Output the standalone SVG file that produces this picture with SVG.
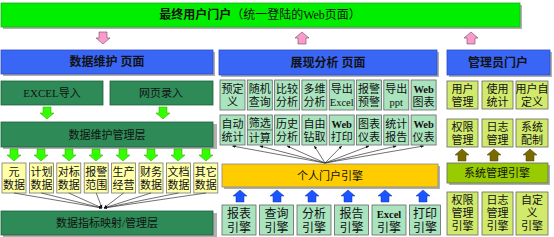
<svg xmlns="http://www.w3.org/2000/svg" width="554" height="237" viewBox="0 0 554 237">
<defs>
<style>
text{font-family:"Liberation Serif","Noto Sans CJK SC",serif;fill:#111;text-anchor:middle}
.t11{font-size:11px}
.t10{font-size:10.5px}
.t12{font-size:12px}
.b{font-weight:bold}
.shadow{fill:#b0b0b0}
.hdr{fill:#3a66f6;stroke:#2a4cc0;stroke-width:0.8}
.dg{fill:#2e8b57;stroke:#1f5f3b;stroke-width:0.8}
.yl{fill:#ffffa6;stroke:#777;stroke-width:0.8}
.mt{fill:#a9e4bf;stroke:#666;stroke-width:0.8}
.yg{fill:#d2ea6c;stroke:#666;stroke-width:0.8}
.ln{stroke:#333;stroke-width:0.7;fill:none}
</style>
<path id="adown" d="M-4,0 H4 V6 H7 L0,12 L-7,6 H-4 Z"/>
<path id="aup" d="M-4,12 H4 V6 H7 L0,0 L-7,6 H-4 Z"/>
<marker id="mk" viewBox="0 0 10 10" refX="9" refY="5" markerWidth="5" markerHeight="5" orient="auto">
<path d="M0,1 L10,5 L0,9 Z" fill="#111"/>
</marker>
</defs>
<rect width="554" height="237" fill="#fff"/>

<g id="top">
<rect x="3" y="5" width="519" height="24" class="shadow"/>
<rect x="1" y="3" width="519" height="24" fill="#00ee00" stroke="#22aa22" stroke-width="0.8"/>
<text x="260" y="19" class="t12"><tspan class="b">最终用户门户</tspan><tspan>（统一登陆的Web页面）</tspan></text>
</g>

<g id="big-arrows">
<use href="#adown" x="103" y="32" fill="#ff99cc" stroke="#555" stroke-width="0.6"/>
<use href="#aup" x="302" y="32" fill="#ff99cc" stroke="#555" stroke-width="0.6"/>
<use href="#aup" x="471" y="32" fill="#ff99cc" stroke="#555" stroke-width="0.6"/>
</g>

<!-- Left column -->
<g id="hdr-left">
<rect x="3" y="52" width="212" height="24" class="shadow"/>
<rect x="1" y="50" width="212" height="24" class="hdr"/>
<text x="107" y="66" class="t12 b">数据维护  页面</text>
</g>
<g id="excel-import">
<rect x="1" y="81" width="102" height="24" class="dg"/>
<text x="52" y="97" class="t11">EXCEL导入</text>
</g>
<g id="web-input">
<rect x="110" y="81" width="103" height="24" class="dg"/>
<text x="161" y="97" class="t11">网页录入</text>
</g>
<g id="lime-arrows-1" fill="#33ff00" stroke="#339900" stroke-width="0.5">
<use href="#adown" x="47" y="107"/>
<use href="#adown" x="163" y="107"/>
</g>
<g id="dm-layer">
<rect x="3" y="124" width="214" height="25" class="shadow"/>
<rect x="1" y="122" width="212" height="25" class="dg"/>
<text x="107" y="139" class="t11">数据维护管理层</text>
</g>
<g id="lime-arrows-2" fill="#33ff00" stroke="#339900" stroke-width="0.5">
<use href="#adown" x="14" y="149"/>
<use href="#adown" x="41" y="149"/>
<use href="#adown" x="69" y="149"/>
<use href="#adown" x="96" y="149"/>
<use href="#adown" x="123" y="149"/>
<use href="#adown" x="151" y="149"/>
<use href="#adown" x="178" y="149"/>
<use href="#adown" x="206" y="149"/>
</g>
<g id="data-boxes">
<g id="d1"><rect x="2" y="163" width="24" height="30" class="yl"/><text x="14" y="176" class="t11">元</text><text x="14" y="189" class="t11">数据</text></g>
<g id="d2"><rect x="29.4" y="163" width="24" height="30" class="yl"/><text x="41.4" y="176" class="t11">计划</text><text x="41.4" y="189" class="t11">数据</text></g>
<g id="d3"><rect x="56.8" y="163" width="24" height="30" class="yl"/><text x="68.8" y="176" class="t11">对标</text><text x="68.8" y="189" class="t11">数据</text></g>
<g id="d4"><rect x="84.2" y="163" width="24" height="30" class="yl"/><text x="96.2" y="176" class="t11">报警</text><text x="96.2" y="189" class="t11">范围</text></g>
<g id="d5"><rect x="111.6" y="163" width="24" height="30" class="yl"/><text x="123.6" y="176" class="t11">生产</text><text x="123.6" y="189" class="t11">经营</text></g>
<g id="d6"><rect x="139" y="163" width="24" height="30" class="yl"/><text x="151" y="176" class="t11">财务</text><text x="151" y="189" class="t11">数据</text></g>
<g id="d7"><rect x="166.4" y="163" width="24" height="30" class="yl"/><text x="178.4" y="176" class="t11">文档</text><text x="178.4" y="189" class="t11">数据</text></g>
<g id="d8"><rect x="193.8" y="163" width="24" height="30" class="yl"/><text x="205.8" y="176" class="t11">其它</text><text x="205.8" y="189" class="t11">数据</text></g>
</g>
<g id="map-layer">
<rect x="3" y="213" width="214" height="24" class="shadow"/>
<rect x="1" y="211" width="212" height="24" class="dg"/>
<text x="107" y="227" class="t11">数据指标映射/管理层</text>
</g>

<!-- Middle column -->
<g id="hdr-mid">
<rect x="221" y="52" width="218" height="25" class="shadow"/>
<rect x="219" y="50" width="218" height="25" class="hdr"/>
<text x="328" y="67" class="t12 b">展现分析  页面</text>
</g>
<g id="row1">
<g><rect x="220" y="80" width="25" height="30" class="mt"/><text x="232.5" y="93" class="t11">预定</text><text x="232.5" y="106" class="t11">义</text></g>
<g><rect x="247.3" y="80" width="25" height="30" class="mt"/><text x="259.8" y="93" class="t11">随机</text><text x="259.8" y="106" class="t11">查询</text></g>
<g><rect x="274.6" y="80" width="25" height="30" class="mt"/><text x="287.1" y="93" class="t11">比较</text><text x="287.1" y="106" class="t11">分析</text></g>
<g><rect x="301.9" y="80" width="25" height="30" class="mt"/><text x="314.4" y="93" class="t11">多维</text><text x="314.4" y="106" class="t11">分析</text></g>
<g><rect x="329.2" y="80" width="25" height="30" class="mt"/><text x="341.7" y="93" class="t11">导出</text><text x="341.7" y="106" class="t10">Excel</text></g>
<g><rect x="356.5" y="80" width="25" height="30" class="mt"/><text x="369" y="93" class="t11">报警</text><text x="369" y="106" class="t11">预警</text></g>
<g><rect x="383.8" y="80" width="25" height="30" class="mt"/><text x="396.3" y="93" class="t11">导出</text><text x="396.3" y="106" class="t10">ppt</text></g>
<g><rect x="411.1" y="80" width="25" height="30" class="mt"/><text x="423.6" y="93" class="t10 b">Web</text><text x="423.6" y="106" class="t11">图表</text></g>
</g>
<g id="row2">
<g><rect x="220" y="115" width="25" height="30" class="mt"/><text x="232.5" y="128" class="t11">自动</text><text x="232.5" y="141" class="t11">统计</text></g>
<g><rect x="247.3" y="115" width="25" height="15" class="mt"/><rect x="247.3" y="130" width="25" height="15" class="mt"/><text x="259.8" y="127" class="t11">筛选</text><text x="259.8" y="142" class="t11">计算</text></g>
<g><rect x="274.6" y="115" width="25" height="30" class="mt"/><text x="287.1" y="128" class="t11">历史</text><text x="287.1" y="141" class="t11">分析</text></g>
<g><rect x="301.9" y="115" width="25" height="30" class="mt"/><text x="314.4" y="128" class="t11">自由</text><text x="314.4" y="141" class="t11">钻取</text></g>
<g><rect x="329.2" y="115" width="25" height="30" class="mt"/><text x="341.7" y="128" class="t10 b">Web</text><text x="341.7" y="141" class="t11">打印</text></g>
<g><rect x="356.5" y="115" width="25" height="30" class="mt"/><text x="369" y="128" class="t11">图表</text><text x="369" y="141" class="t11">仪表</text></g>
<g><rect x="383.8" y="115" width="25" height="30" class="mt"/><text x="396.3" y="128" class="t11">统计</text><text x="396.3" y="141" class="t11">报告</text></g>
<g><rect x="411.1" y="115" width="25" height="30" class="mt"/><text x="423.6" y="128" class="t10 b">Web</text><text x="423.6" y="141" class="t11">仪表</text></g>
</g>
<g id="portal-engine">
<rect x="224" y="166" width="216" height="23" class="shadow"/>
<rect x="222" y="164" width="216" height="23" fill="#ffcc00" stroke="#888" stroke-width="0.8"/>
<text x="330" y="180" class="t11">个人门户引擎</text>
</g>
<g id="blue-arrows" fill="#1a55ff" stroke="#1133aa" stroke-width="0.5">
<use href="#aup" x="240" y="190"/>
<use href="#aup" x="277" y="190"/>
<use href="#aup" x="312" y="190"/>
<use href="#aup" x="348" y="190"/>
<use href="#aup" x="385" y="190"/>
<use href="#aup" x="423" y="190"/>
</g>
<g id="engines">
<g><rect x="222" y="205" width="34" height="30" class="mt"/><text x="239" y="218" class="t12">报表</text><text x="239" y="232" class="t12">引擎</text></g>
<g><rect x="259.5" y="205" width="34" height="30" class="mt"/><text x="276.5" y="218" class="t12">查询</text><text x="276.5" y="232" class="t12">引擎</text></g>
<g><rect x="297" y="205" width="34" height="30" class="mt"/><text x="314" y="218" class="t12">分析</text><text x="314" y="232" class="t12">引擎</text></g>
<g><rect x="334.5" y="205" width="34" height="30" class="mt"/><text x="351.5" y="218" class="t12">报告</text><text x="351.5" y="232" class="t12">引擎</text></g>
<g><rect x="372" y="205" width="34" height="30" class="mt"/><text x="389" y="218" class="t10 b">Excel</text><text x="389" y="232" class="t12">引擎</text></g>
<g><rect x="409.5" y="205" width="31" height="30" class="mt"/><text x="425" y="218" class="t12">打印</text><text x="425" y="232" class="t12">引擎</text></g>
</g>

<!-- Right column -->
<g id="hdr-right">
<rect x="449" y="52" width="103" height="25" class="shadow"/>
<rect x="447" y="50" width="103" height="25" class="hdr"/>
<text x="498" y="67" class="t12 b">管理员门户</text>
</g>
<g id="admin-row1">
<g><rect x="447" y="81" width="31" height="28" class="yg"/><text x="462.5" y="93" class="t11">用户</text><text x="462.5" y="106" class="t11">管理</text></g>
<g><rect x="482" y="81" width="31" height="28" class="yg"/><text x="497.5" y="93" class="t11">使用</text><text x="497.5" y="106" class="t11">统计</text></g>
<g><rect x="516" y="81" width="32" height="28" class="yg"/><text x="532" y="93" class="t11">用户自</text><text x="532" y="106" class="t11">定义</text></g>
</g>
<g id="admin-row2">
<g><rect x="447" y="119" width="31" height="28" class="yg"/><text x="462.5" y="131" class="t11">权限</text><text x="462.5" y="144" class="t11">管理</text></g>
<g><rect x="482" y="119" width="31" height="28" class="yg"/><text x="497.5" y="131" class="t11">日志</text><text x="497.5" y="144" class="t11">管理</text></g>
<g><rect x="516" y="119" width="32" height="28" class="yg"/><text x="532" y="131" class="t11">系统</text><text x="532" y="144" class="t11">配制</text></g>
</g>
<g id="olive-arrows" fill="#7a6a00" stroke="#4a4000" stroke-width="0.5">
<use href="#aup" x="462" y="149"/>
<use href="#aup" x="494" y="149"/>
<use href="#aup" x="530" y="149"/>
</g>
<g id="sys-engine">
<rect x="449" y="165" width="101" height="20" class="shadow"/>
<rect x="447" y="163" width="101" height="20" fill="#99cc00" stroke="#666" stroke-width="0.8"/>
<text x="497" y="177" class="t11">系统管理引擎</text>
</g>
<g id="admin-engines">
<g><rect x="447" y="192" width="31" height="43" class="yg"/><text x="462.5" y="204" class="t11">权限</text><text x="462.5" y="217" class="t11">管理</text><text x="462.5" y="230" class="t11">引擎</text></g>
<g><rect x="482" y="192" width="31" height="43" class="yg"/><text x="497.5" y="204" class="t11">日志</text><text x="497.5" y="217" class="t11">管理</text><text x="497.5" y="230" class="t11">引擎</text></g>
<g><rect x="516" y="192" width="32" height="43" class="yg"/><text x="532" y="204" class="t11">自定</text><text x="532" y="217" class="t11">义</text><text x="532" y="230" class="t11">引擎</text></g>
</g>

<g id="connectors">
<line x1="14" y1="193" x2="102" y2="208" class="ln" marker-end="url(#mk)"/>
<line x1="41.4" y1="193" x2="102" y2="208" class="ln" marker-end="url(#mk)"/>
<line x1="68.8" y1="193" x2="102" y2="208" class="ln" marker-end="url(#mk)"/>
<line x1="96.2" y1="193" x2="102" y2="208" class="ln" marker-end="url(#mk)"/>
<line x1="123.6" y1="193" x2="104" y2="208" class="ln" marker-end="url(#mk)"/>
<line x1="151" y1="193" x2="104" y2="208" class="ln" marker-end="url(#mk)"/>
<line x1="178.4" y1="193" x2="104" y2="208" class="ln" marker-end="url(#mk)"/>
<line x1="205.8" y1="193" x2="104" y2="208" class="ln" marker-end="url(#mk)"/>
<line x1="325" y1="163" x2="232.5" y2="146" class="ln" marker-end="url(#mk)"/>
<line x1="325" y1="163" x2="259.8" y2="146" class="ln" marker-end="url(#mk)"/>
<line x1="325" y1="163" x2="287.1" y2="146" class="ln" marker-end="url(#mk)"/>
<line x1="325" y1="163" x2="314.4" y2="146" class="ln" marker-end="url(#mk)"/>
<line x1="325" y1="163" x2="341.7" y2="146" class="ln" marker-end="url(#mk)"/>
<line x1="325" y1="163" x2="369" y2="146" class="ln" marker-end="url(#mk)"/>
<line x1="325" y1="163" x2="396.3" y2="146" class="ln" marker-end="url(#mk)"/>
<line x1="325" y1="163" x2="423.6" y2="146" class="ln" marker-end="url(#mk)"/>
</g>
</svg>
